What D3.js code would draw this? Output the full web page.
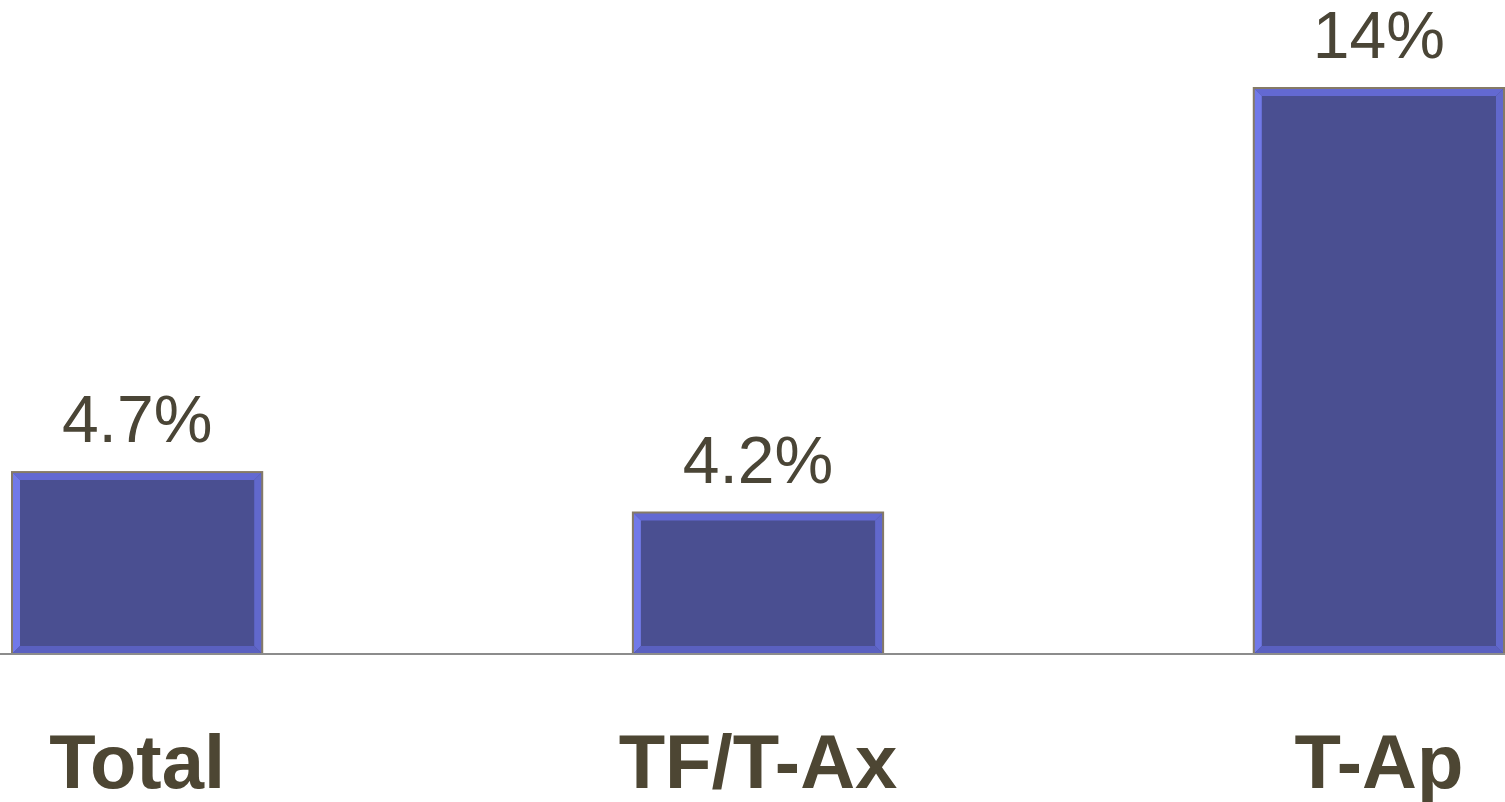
<!DOCTYPE html>
<html>
<head>
<meta charset="utf-8">
<script src="https://cdn.jsdelivr.net/npm/d3@7"></script>
<style>
  body { margin: 0; background: #fff; }
  svg { display: block; }
</style>
</head>
<body>
<svg id="chart-svg" width="1505" height="802"></svg>
<script>
// Data
const categories = ["Total", "TF/T-Ax", "T-Ap"];
const values = [4.5, 3.5, 14];
const valueLabels = ["4.7%", "4.2%", "14%"];

const width = 1505, height = 802;
const margin = {left: 12, right: 1, top: 88, bottom: 148};

const svg = d3.select('#chart-svg');

// X scale (band)
const xScale = d3.scaleBand()
    .domain(categories)
    .range([margin.left, width - margin.right])
    .paddingInner(0.597)
    .paddingOuter(0);

// Y scale
const yScale = d3.scaleLinear()
    .domain([0, 14])
    .range([height - margin.bottom, margin.top]);

const bev = 8;

const bars = svg.append("g").selectAll("g")
    .data(categories.map((c, i) => ({cat: c, value: values[i], label: valueLabels[i]})))
    .join("g");

// bar body + bevel faces
bars.each(function(d) {
    const g = d3.select(this);
    const x0 = xScale(d.cat), x1 = x0 + xScale.bandwidth();
    const y0 = yScale(d.value), y1 = yScale(0);
    g.append("rect")
        .attr("x", x0).attr("y", y0)
        .attr("width", x1 - x0).attr("height", y1 - y0)
        .attr("fill", "#4a4f91");
    const faces = [
        {pts: [[x0, y0], [x1, y0], [x1 - bev, y0 + bev], [x0 + bev, y0 + bev]], fill: "#6369d2"},
        {pts: [[x0, y0], [x0 + bev, y0 + bev], [x0 + bev, y1 - bev], [x0, y1]], fill: "#7179e8"},
        {pts: [[x1, y0], [x1, y1], [x1 - bev, y1 - bev], [x1 - bev, y0 + bev]], fill: "#6168cc"},
        {pts: [[x0, y1], [x0 + bev, y1 - bev], [x1 - bev, y1 - bev], [x1, y1]], fill: "#5a60c0"}
    ];
    g.selectAll("polygon").data(faces).join("polygon")
        .attr("points", f => f.pts.map(p => p.join(",")).join(" "))
        .attr("fill", f => f.fill);
    g.append("rect")
        .attr("x", x0).attr("y", y0)
        .attr("width", x1 - x0).attr("height", y1 - y0)
        .attr("fill", "none")
        .attr("stroke", "#857a66")
        .attr("stroke-width", 2);
});

// Baseline
svg.append("line")
    .attr("x1", 0).attr("x2", width)
    .attr("y1", yScale(0)).attr("y2", yScale(0))
    .attr("stroke", "#8c8c8c")
    .attr("stroke-width", 2);

// Value labels
bars.append("text")
    .attr("x", d => xScale(d.cat) + xScale.bandwidth() / 2)
    .attr("y", d => yScale(d.value) - 30)
    .attr("text-anchor", "middle")
    .attr("font-family", "Liberation Sans, Arial, sans-serif")
    .attr("font-size", 66)
    .attr("fill", "#4a4536")
    .text(d => d.label);

// Category labels
bars.append("text")
    .attr("x", d => xScale(d.cat) + xScale.bandwidth() / 2)
    .attr("y", 788)
    .attr("text-anchor", "middle")
    .attr("font-family", "Liberation Sans, Arial, sans-serif")
    .attr("font-weight", "bold")
    .attr("font-size", 76)
    .attr("fill", "#4d4633")
    .text(d => d.cat);
</script>
</body>
</html>
